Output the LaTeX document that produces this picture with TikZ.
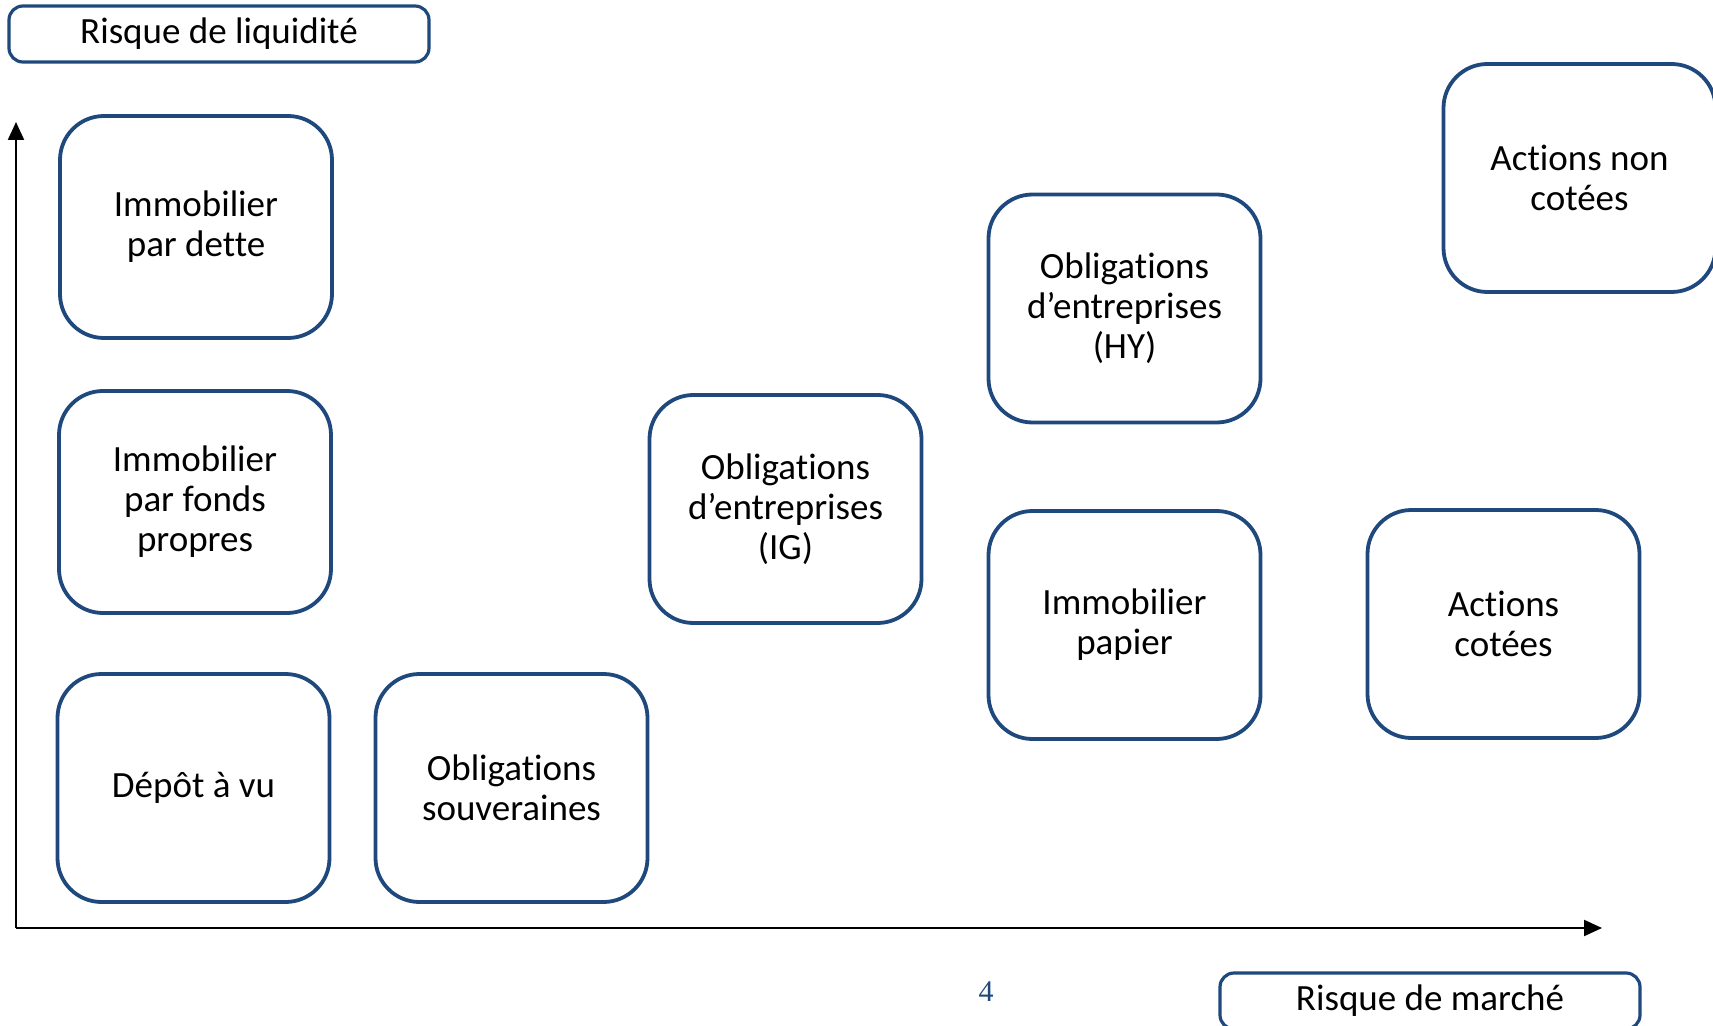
\documentclass[tikz,border=0pt]{standalone}
\usepackage{fontspec}
\setmainfont{Carlito}[Ligatures={NoCommon,NoContextual}, RawFeature={-liga;-clig;-calt;-dlig}]
\newfontfamily\pagefont{Liberation Serif}
\usetikzlibrary{arrows.meta}

\definecolor{boxblue}{RGB}{31,73,125}

\tikzset{
  asset/.style={draw=boxblue, line width=1.9pt, rounded corners=22pt,
    align=center, inner sep=0pt, minimum width=136pt, minimum height=114pt,
    font=\fontsize{18.5}{20}\selectfont},
  riskbox/.style={draw=boxblue, line width=1.6pt, rounded corners=7pt,
    inner sep=0pt, minimum width=210pt, minimum height=28pt,
    font=\fontsize{18.5}{20}\selectfont},
  axis/.style={line width=1.1pt, -{Triangle[length=9pt,width=8pt]}}
}

\begin{document}
\begin{tikzpicture}[x=0.5pt, y=-0.5pt]

\useasboundingbox (0,0) rectangle (1713,1026);

% Axes
\coordinate (O) at (16,928);
\coordinate (ytop) at (16,122);
\coordinate (xend) at (1602,928);
\draw[axis] (O) -- (ytop);
\draw[axis] (O) -- (xend);

% Axis labels
\node[riskbox] (liquidite) at (219,34) {Risque de liquidité};
\node[riskbox] (marche) at (1430,1001) {Risque de marché};

% Asset classes
\node[asset, minimum height=111pt] (dette) at (196,227) {Immobilier\\par dette};
\node[asset, minimum height=111pt] (fonds) at (195,502) {Immobilier\\par fonds\\propres};
\node[asset] (depot) at (193.5,788) {Dépôt à vu};
\node[asset] (souv) at (511.5,788) {Obligations\\souveraines};
\node[asset] (ig) at (785.5,509) {Obligations\\d’entreprises\\(IG)};
\node[asset] (hy) at (1124.5,308.5) {Obligations\\d’entreprises\\(HY)};
\node[asset] (papier) at (1124.5,625) {Immobilier\\papier};
\node[asset] (cotees) at (1503.5,624) {Actions\\cotées};
\node[asset] (noncotees) at (1579.5,178) {Actions non\\cotées};

% Page number
\node[text=boxblue, font=\pagefont\fontsize{15}{18}\selectfont] (page) at (986,992) {4};

\end{tikzpicture}
\end{document}
